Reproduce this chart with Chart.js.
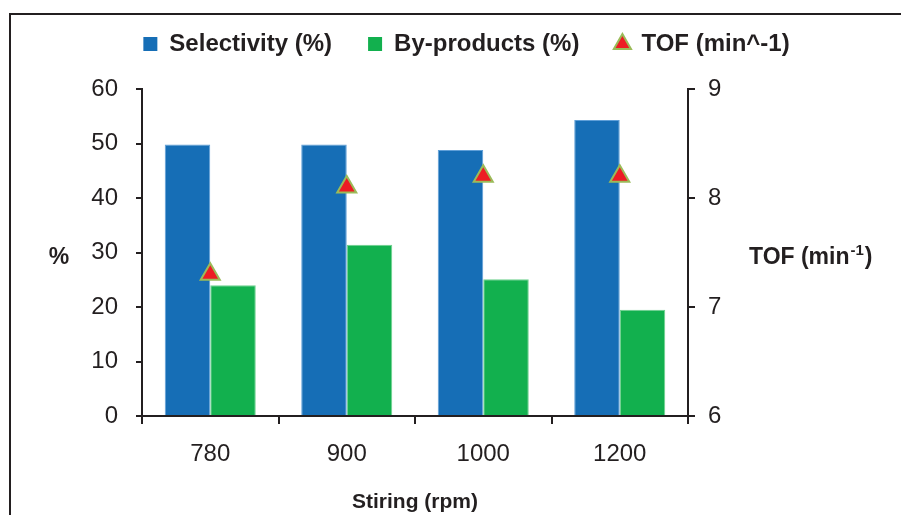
<!DOCTYPE html>
<html>
<head>
<meta charset="utf-8">
<title>Stirring rate effect</title>
<script src="https://cdn.jsdelivr.net/npm/chart.js@4.4.1/dist/chart.umd.min.js"></script>
<style>
    html, body { margin: 0; padding: 0; background: #fff; }
    #wrap { position: relative; width: 901px; height: 515px; overflow: hidden; }
    #frame {
        position: absolute; left: 9px; top: 13px; right: -10px; bottom: -10px;
        border-top: 2px solid #231f20; border-left: 2px solid #231f20;
    }
    #chart { position: absolute; left: 0; top: 0; }
</style>
</head>
<body>
<div id="wrap">
    <div id="frame"></div>
    <canvas id="chart" width="901" height="515"></canvas>
</div>
<script>
// Data
const categories = ['780', '900', '1000', '1200'];
const selectivity = [49.8, 49.8, 48.8, 54.3];
const byProducts = [24.0, 31.4, 25.1, 19.5];
const tof = [7.3, 8.1, 8.2, 8.2];

const leftAxis = { min: 0, max: 60, step: 10 };
const rightAxis = { min: 6, max: 9, step: 1 };

const FONT = "'Liberation Sans', Arial, sans-serif";
const INK = '#231f20';

// Keep the legend box a fixed height so the plot starts where the original does
const legendHeight = {
    id: 'legendHeight',
    afterInit(chart) {
        const lg = chart.legend;
        if (!lg) return;
        const fit = lg.fit.bind(lg);
        lg.fit = function () {
            fit();
            this.height = 93;
        };
    }
};

// Horizontal side titles ("%" on the left, TOF with superscript on the right)
const sideTitles = {
    id: 'sideTitles',
    afterDraw(chart) {
        const ctx = chart.ctx;
        const y = (chart.chartArea.top + chart.chartArea.bottom) / 2 + 5;
        ctx.save();
        ctx.fillStyle = INK;
        ctx.textBaseline = 'middle';
        ctx.textAlign = 'center';
        ctx.font = 'bold 23px ' + FONT;
        ctx.fillText('%', 59, y);

        ctx.textAlign = 'left';
        let x = 749;
        ctx.fillText('TOF (min', x, y);
        x += ctx.measureText('TOF (min').width + 1;
        ctx.font = 'bold 15px ' + FONT;
        ctx.fillText('-1', x, y - 7);
        x += ctx.measureText('-1').width + 1;
        ctx.font = 'bold 23px ' + FONT;
        ctx.fillText(')', x, y);
        ctx.restore();
    }
};

const chart = new Chart(document.getElementById('chart'), {
    data: {
        labels: categories,
        datasets: [{
            type: 'bar',
            label: 'Selectivity (%)',
            data: selectivity,
            backgroundColor: '#166eb6',
            borderColor: '#5f9fd8',
            borderWidth: 1,
            yAxisID: 'y',
            order: 1,
            barPercentage: 1,
            categoryPercentage: 0.667
        }, {
            type: 'bar',
            label: 'By-products (%)',
            data: byProducts,
            backgroundColor: '#12b04e',
            borderColor: '#6fd18f',
            borderWidth: 1,
            yAxisID: 'y',
            order: 1,
            barPercentage: 1,
            categoryPercentage: 0.667
        }, {
            type: 'line',
            label: 'TOF (min^-1)',
            data: tof,
            showLine: false,
            yAxisID: 'y1',
            order: 0,
            pointStyle: 'triangle',
            pointRadius: 11,
            pointHoverRadius: 11,
            backgroundColor: '#ed1c24',
            borderColor: '#9bbb59',
            borderWidth: 2
        }]
    },
    options: {
        responsive: false,
        animation: false,
        events: [],
        layout: {
            padding: { left: 32, top: -4, right: 0, bottom: 0 }
        },
        plugins: {
            tooltip: { enabled: false },
            legend: {
                position: 'top',
                labels: {
                    color: INK,
                    font: { family: FONT, size: 24, weight: 'bold' },
                    padding: 36,
                    boxWidth: 14,
                    boxHeight: 14,
                    usePointStyle: true,
                    sort: (a, b) => a.datasetIndex - b.datasetIndex,
                    generateLabels: function (chart) {
                        const items = Chart.defaults.plugins.legend.labels.generateLabels(chart);
                        return items.map(item => {
                            const ds = chart.data.datasets[item.datasetIndex];
                            if (ds.type === 'bar') {
                                item.pointStyle = 'rect';
                                item.lineWidth = 0;
                                item.strokeStyle = ds.backgroundColor;
                            }
                            return item;
                        });
                    }
                }
            }
        },
        scales: {
            x: {
                offset: true,
                grid: {
                    offset: true,
                    drawOnChartArea: false,
                    tickLength: 8,
                    color: INK,
                    lineWidth: 2
                },
                border: { color: INK, width: 2 },
                ticks: {
                    color: INK,
                    font: { family: FONT, size: 24 },
                    padding: 16
                },
                title: {
                    display: true,
                    text: 'Stiring (rpm)',
                    color: INK,
                    font: { family: FONT, size: 21, weight: 'bold' },
                    padding: 0
                },
                afterFit: scale => { scale.height = 99; }
            },
            y: {
                position: 'left',
                min: leftAxis.min,
                max: leftAxis.max,
                grid: {
                    drawOnChartArea: false,
                    tickLength: 6,
                    color: INK,
                    lineWidth: 2
                },
                border: { color: INK, width: 2 },
                ticks: {
                    stepSize: leftAxis.step,
                    color: INK,
                    font: { family: FONT, size: 24 },
                    padding: 18
                },
                afterFit: scale => { scale.width = 110; }
            },
            y1: {
                position: 'right',
                min: rightAxis.min,
                max: rightAxis.max,
                grid: {
                    drawOnChartArea: false,
                    tickLength: 7,
                    color: INK,
                    lineWidth: 2
                },
                border: { color: INK, width: 2 },
                ticks: {
                    stepSize: rightAxis.step,
                    color: INK,
                    font: { family: FONT, size: 24 },
                    padding: 13
                },
                afterFit: scale => { scale.width = 213; }
            }
        }
    },
    plugins: [legendHeight, sideTitles]
});
</script>
</body>
</html>
